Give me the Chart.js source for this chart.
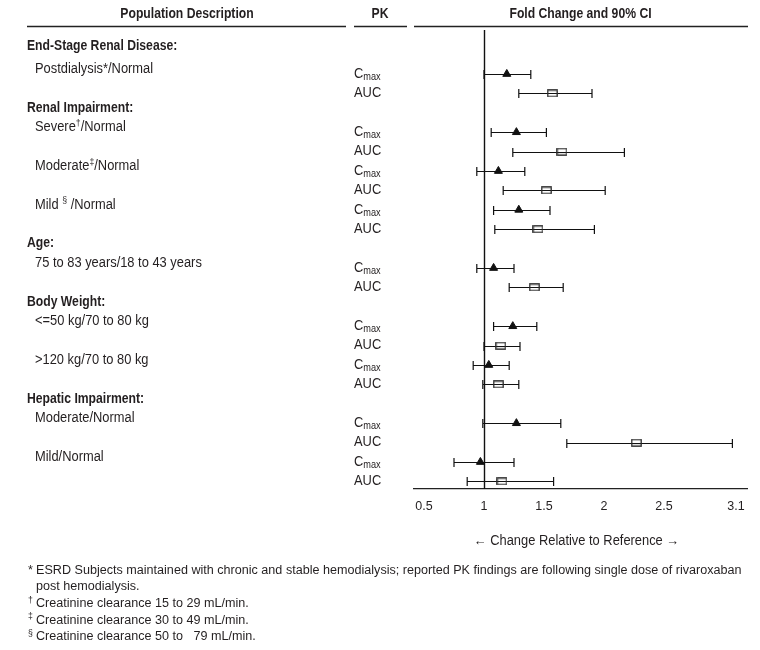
<!DOCTYPE html>
<html>
<head>
<meta charset="utf-8">
<script src="https://cdn.jsdelivr.net/npm/chart.js@4.4.1/dist/chart.umd.min.js"></script>
<style>
  html, body { margin: 0; padding: 0; background: #fff; }
  #wrap { width: 760px; height: 650px; position: relative; }
</style>
</head>
<body>
<div id="wrap"><canvas id="forestChart"></canvas></div>
<script>
// ---- data ----
const groupHeadings = ["End-Stage Renal Disease:", "Renal Impairment:", "Age:", "Body Weight:", "Hepatic Impairment:"];
const subgroupLabels = ["Postdialysis*/Normal", "Severe\u2020/Normal", "Moderate\u2021/Normal", "Mild \u00a7 /Normal",
  "75 to 83 years/18 to 43 years", "<=50 kg/70 to 80 kg", ">120 kg/70 to 80 kg", "Moderate/Normal", "Mild/Normal"];
const subgroupGroup = [0, 1, 1, 1, 2, 3, 3, 4, 4];
const pkParams = ["Cmax", "AUC"];

const cmaxPoint = [1.19, 1.27, 1.12, 1.29, 1.08, 1.24, 1.04, 1.27, 0.97];
const cmaxLow   = [1.00, 1.06, 0.94, 1.08, 0.94, 1.08, 0.91, 0.99, 0.75];
const cmaxHigh  = [1.39, 1.52, 1.34, 1.55, 1.25, 1.44, 1.21, 1.64, 1.25];
const aucPoint  = [1.57, 1.65, 1.52, 1.45, 1.42, 1.14, 1.12, 2.27, 1.15];
const aucLow    = [1.29, 1.24, 1.16, 1.09, 1.21, 1.00, 0.99, 1.69, 0.86];
const aucHigh   = [1.90, 2.17, 2.01, 1.92, 1.66, 1.30, 1.29, 3.07, 1.58];

const xTicks = [0.5, 1, 1.5, 2, 2.5, 3.1];
const referenceValue = 1;
const xTitle = "\u2190 Change Relative to Reference \u2192";

const footnotes = [
  ["*", "ESRD Subjects maintained with chronic and stable hemodialysis; reported PK findings are following single dose of rivaroxaban"],
  ["", "post hemodialysis."],
  ["\u2020", "Creatinine clearance 15 to 29 mL/min."],
  ["\u2021", "Creatinine clearance 30 to 49 mL/min."],
  ["\u00a7", "Creatinine clearance 50 to   79 mL/min."]
];

// ---- row layout: one blank row per group heading, then Cmax / AUC per subgroup ----
const headingRow = [];
const cmaxRow = [];
const aucRow = [];
let row = 0;
subgroupLabels.forEach((label, i) => {
  const g = subgroupGroup[i];
  if (headingRow[g] === undefined) headingRow[g] = row++;
  cmaxRow.push(row++);
  aucRow.push(row++);
});
const lastRow = row - 1;

const FONT = '"Liberation Sans", Arial, Helvetica, sans-serif';
const INK = "#231f20";

Chart.defaults.font.family = FONT;
Chart.defaults.color = INK;

// condensed text: the original uses a narrow grotesque, so squeeze Liberation Sans
function drawText(ctx, str, x, y, opts = {}) {
  const size = opts.size || 14;
  const bold = !!opts.bold;
  const k = bold ? 0.87 : 0.92;
  ctx.save();
  ctx.font = (bold ? "bold " : "") + size + "px " + FONT;
  ctx.textAlign = opts.align || "left";
  ctx.textBaseline = "middle";
  ctx.translate(x, y);
  ctx.scale(k, 1);
  ctx.fillText(str, 0, 0);
  const w = ctx.measureText(str).width * k;
  ctx.restore();
  return w;
}

// open rectangle marker for AUC
const aucMarker = document.createElement("canvas");
aucMarker.width = 11;
aucMarker.height = 8;
(() => {
  const c = aucMarker.getContext("2d");
  c.strokeStyle = "#2a2a2a";
  c.lineWidth = 1.3;
  c.strokeRect(0.8, 0.8, 9.4, 6.4);
})();

const whiskerPlugin = {
  id: "whiskers",
  beforeDatasetsDraw(chart) {
    const { ctx, chartArea, scales: { x, y } } = chart;
    ctx.save();
    ctx.strokeStyle = "#111";
    ctx.lineWidth = 1.4;
    const rx = Math.round(x.getPixelForValue(referenceValue)) + 0.5;
    ctx.beginPath();
    ctx.moveTo(rx, chartArea.top);
    ctx.lineTo(rx, chartArea.bottom);
    ctx.stroke();

    ctx.lineWidth = 1.2;
    const drawCI = (lo, hi, r) => {
      const yy = Math.round(y.getPixelForValue(r)) + 0.5;
      const x1 = x.getPixelForValue(lo);
      const x2 = x.getPixelForValue(hi);
      ctx.beginPath();
      ctx.moveTo(x1, yy);
      ctx.lineTo(x2, yy);
      ctx.moveTo(x1, yy - 4.5);
      ctx.lineTo(x1, yy + 4.5);
      ctx.moveTo(x2, yy - 4.5);
      ctx.lineTo(x2, yy + 4.5);
      ctx.stroke();
    };
    subgroupLabels.forEach((_, i) => {
      drawCI(cmaxLow[i], cmaxHigh[i], cmaxRow[i]);
      drawCI(aucLow[i], aucHigh[i], aucRow[i]);
    });
    ctx.restore();
  }
};

const textPlugin = {
  id: "tableText",
  afterDraw(chart) {
    const { ctx, scales: { x, y } } = chart;
    ctx.save();
    ctx.fillStyle = INK;
    ctx.strokeStyle = "#222";

    // column headers and rules
    drawText(ctx, "Population Description", 187, 14, { bold: true, align: "center" });
    drawText(ctx, "PK", 380, 14, { bold: true, align: "center" });
    drawText(ctx, "Fold Change and 90% CI", (x.left + x.right) / 2, 14, { bold: true, align: "center" });
    ctx.lineWidth = 1.3;
    ctx.beginPath();
    ctx.moveTo(27, 26.5); ctx.lineTo(346, 26.5);
    ctx.moveTo(354, 26.5); ctx.lineTo(407, 26.5);
    ctx.moveTo(x.left, 26.5); ctx.lineTo(x.right + 1, 26.5);
    ctx.stroke();

    // group headings
    groupHeadings.forEach((h, g) => {
      const off = g === 0 ? 8 : 5;
      drawText(ctx, h, 27, y.getPixelForValue(headingRow[g]) - off, { bold: true });
    });

    // subgroup labels with raised footnote marks
    const marks = "\u2020\u2021\u00a7";
    subgroupLabels.forEach((label, i) => {
      const yy = y.getPixelForValue(cmaxRow[i]) - 5;
      let cx = 35;
      for (const ch of label) {
        if (marks.includes(ch)) {
          cx += drawText(ctx, ch, cx, yy - 4, { size: 9.5 });
        } else {
          cx += drawText(ctx, ch, cx, yy);
        }
      }
    });

    // PK parameter labels
    const drawParam = (name, yy) => {
      if (name === "Cmax") {
        const w = drawText(ctx, "C", 354, yy);
        drawText(ctx, "max", 354 + w, yy + 3, { size: 10 });
      } else {
        drawText(ctx, name, 354, yy);
      }
    };
    subgroupLabels.forEach((_, i) => {
      drawParam(pkParams[0], y.getPixelForValue(cmaxRow[i]));
      drawParam(pkParams[1], y.getPixelForValue(aucRow[i]));
    });

    // axis title
    drawText(ctx, xTitle, (x.left + x.right) / 2 - 4, x.top + 52, { align: "center" });

    // footnotes
    footnotes.forEach(([mark, text], k) => {
      const yy = 570 + k * 16.6;
      if (mark === "*") {
        drawText(ctx, mark, 28, yy, { size: 13.7 });
      } else if (mark) {
        drawText(ctx, mark, 28, yy - 3, { size: 9.5 });
      }
      drawText(ctx, text, 36, yy, { size: 13.7 });
    });
    ctx.restore();
  }
};

const ctx = document.getElementById("forestChart").getContext("2d");
new Chart(ctx, {
  type: "scatter",
  data: {
    datasets: [
      {
        label: "Cmax",
        data: cmaxPoint.map((v, i) => ({ x: v, y: cmaxRow[i] })),
        pointStyle: "triangle",
        pointRadius: 4.6,
        pointHoverRadius: 4.6,
        backgroundColor: "#111",
        borderColor: "#111",
        borderWidth: 1
      },
      {
        label: "AUC",
        data: aucPoint.map((v, i) => ({ x: v, y: aucRow[i] })),
        pointStyle: aucMarker,
        pointRadius: 5,
        pointHoverRadius: 5
      }
    ]
  },
  options: {
    responsive: true,
    maintainAspectRatio: false,
    animation: false,
    layout: { padding: { left: 414, right: 13, top: 30, bottom: 99 } },
    plugins: {
      legend: { display: false },
      tooltip: { enabled: false }
    },
    scales: {
      x: {
        type: "linear",
        min: 0.4167,
        max: 3.1917,
        afterBuildTicks: (scale) => {
          scale.ticks = xTicks.map((v) => ({ value: v }));
        },
        afterFit: (scale) => {
          scale.height = 62;
        },
        grid: { display: false, drawTicks: false },
        border: { display: true, color: "#222", width: 1.3 },
        ticks: {
          padding: 10,
          font: { size: 12.5 },
          color: INK,
          callback: (v) => String(v)
        }
      },
      y: {
        type: "linear",
        reverse: true,
        display: false,
        min: cmaxRow[0] - 2.27,
        max: lastRow + 0.39
      }
    }
  },
  plugins: [whiskerPlugin, textPlugin]
});
</script>
</body>
</html>
